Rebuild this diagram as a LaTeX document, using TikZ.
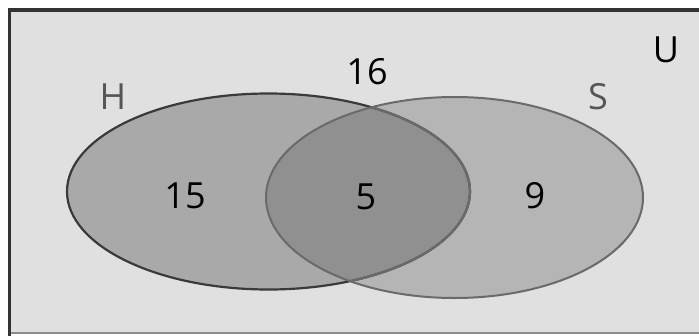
\documentclass[tikz,border=0pt]{standalone}
\usepackage{fontspec}
\setmainfont{Open Sans}
\definecolor{bgray}{HTML}{E0E0E0}
\definecolor{hfill}{HTML}{A9A9A9}
\definecolor{sfill}{HTML}{B5B5B5}
\definecolor{ofill}{HTML}{909090}
\definecolor{hline}{HTML}{3A3A3A}
\definecolor{sline}{HTML}{6A6A6A}
\definecolor{lblgray}{HTML}{555555}
\begin{document}
\begin{tikzpicture}[x=1pt,y=-1pt,
  numlbl/.style={font=\fontsize{36}{36}\selectfont, text=black, inner sep=0pt},
  setlbl/.style={font=\fontsize{36}{36}\selectfont, text=lblgray, inner sep=0pt}]
\useasboundingbox (0,0) rectangle (699,335);
\fill[white] (0,0) rectangle (699,335);
% universe box
\fill[bgray] (9.5,10) rectangle (710,333);
\draw[line width=1.8pt, color=black!45] (9.5,333) -- (710,333);
\draw[line width=3.5pt, color=black!80] (9.5,335.5) -- (9.5,10) -- (710,10);
% sets
\def\Hpath{(268.5,191.5) ellipse [x radius=201.5, y radius=98]}
\def\Spath{(454.5,197.5) ellipse [x radius=188.5, y radius=100.5]}
\fill[hfill] \Hpath;
\fill[sfill] \Spath;
\begin{scope}
  \clip \Hpath;
  \fill[ofill] \Spath;
\end{scope}
\draw[hline, line width=2.2pt] \Hpath;
\begin{scope}
  \clip \Spath;
  \draw[sline, line width=2.2pt] \Hpath;
\end{scope}
\draw[sline, line width=2pt] \Spath;
% labels
\node[setlbl] (lH) at (113,97) {H};
\node[setlbl] (lS) at (598,97) {S};
\node[numlbl] (lU) at (666,50) {U};
\node[numlbl] (n16) at (367,72) {16};
\node[numlbl] (n15) at (185,196) {15};
\node[numlbl] (n5) at (366,197) {5};
\node[numlbl] (n9) at (535,196) {9};
\end{tikzpicture}
\end{document}
